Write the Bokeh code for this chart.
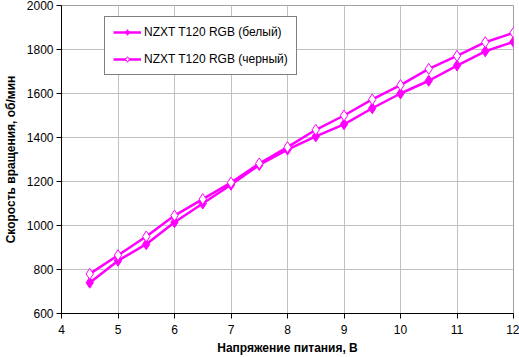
from bokeh.plotting import figure
from bokeh.models import Range1d, FixedTicker, Legend, LegendItem
from bokeh.embed import file_html
from bokeh.resources import INLINE

voltage = [4.5, 5, 5.5, 6, 6.5, 7, 7.5, 8, 8.5, 9, 9.5, 10, 10.5, 11, 11.5, 12]
white_rpm = [740, 840, 915, 1015, 1100, 1185, 1275, 1345, 1405, 1460, 1533, 1600, 1658, 1727, 1792, 1835]
black_rpm = [780, 865, 950, 1045, 1120, 1195, 1282, 1356, 1435, 1500, 1573, 1638, 1712, 1771, 1833, 1876]
series_names = ["NZXT T120 RGB (белый)", "NZXT T120 RGB (черный)"]
x_ticks = [4, 5, 6, 7, 8, 9, 10, 11, 12]
y_ticks = [600, 800, 1000, 1200, 1400, 1600, 1800, 2000]

FONT = "Liberation Sans"
MAG = "#FF00FF"

p = figure(width=519, height=357, output_backend="svg", toolbar_location=None,
           x_range=Range1d(4, 12), y_range=Range1d(600, 2000))
p.min_border_left = 57
p.min_border_right = 6
p.min_border_top = 5
p.min_border_bottom = 44
p.background_fill_color = "white"
p.border_fill_color = "white"
p.outline_line_color = "#A0A0A0"

p.xaxis.ticker = FixedTicker(ticks=x_ticks)
p.yaxis.ticker = FixedTicker(ticks=y_ticks)
p.xaxis.minor_tick_line_color = None
p.yaxis.minor_tick_line_color = None
for ax in (p.xaxis, p.yaxis):
    ax.major_label_text_font = FONT
    ax.major_label_text_font_size = "12px"
    ax.major_label_text_color = "black"
    ax.axis_label_text_font = FONT
    ax.axis_label_text_font_size = "12px"
    ax.axis_label_text_font_style = "bold"
    ax.axis_label_text_color = "black"
    ax.axis_line_color = "black"
    ax.major_tick_line_color = "black"
    ax.major_tick_out = 5
    ax.major_tick_in = 0
p.xaxis.axis_label = "Напряжение питания, В"
p.yaxis.axis_label = "Скорость вращения, об/мин"
p.xaxis.major_label_standoff = 6
p.yaxis.major_label_standoff = 3
p.xaxis.axis_label_standoff = 4
p.yaxis.axis_label_standoff = 6

p.xgrid.grid_line_color = "#C0C0C0"
p.ygrid.grid_line_color = "#C0C0C0"

l1 = p.line(voltage, white_rpm, line_color=MAG, line_width=2.5)
m1 = p.scatter(voltage, white_rpm, marker="diamond", size=11, fill_color=MAG, line_color=MAG)
l2 = p.line(voltage, black_rpm, line_color=MAG, line_width=2.5)
m2 = p.scatter(voltage, black_rpm, marker="diamond", size=11, fill_color="white", line_color=MAG)

legend = Legend(items=[LegendItem(label=series_names[0], renderers=[l1, m1]),
                       LegendItem(label=series_names[1], renderers=[l2, m2])],
                location=(43, 238))
legend.label_text_font = FONT
legend.label_text_font_size = "12px"
legend.label_text_color = "black"
legend.border_line_color = "black"
legend.border_line_width = 1
legend.background_fill_alpha = 1
legend.padding = 8
legend.spacing = 13
legend.label_height = 14
legend.glyph_height = 14
legend.glyph_width = 28
legend.label_standoff = 3
legend.margin = 0
p.add_layout(legend, "center")

open("out.html", "w").write(file_html(p, INLINE))
